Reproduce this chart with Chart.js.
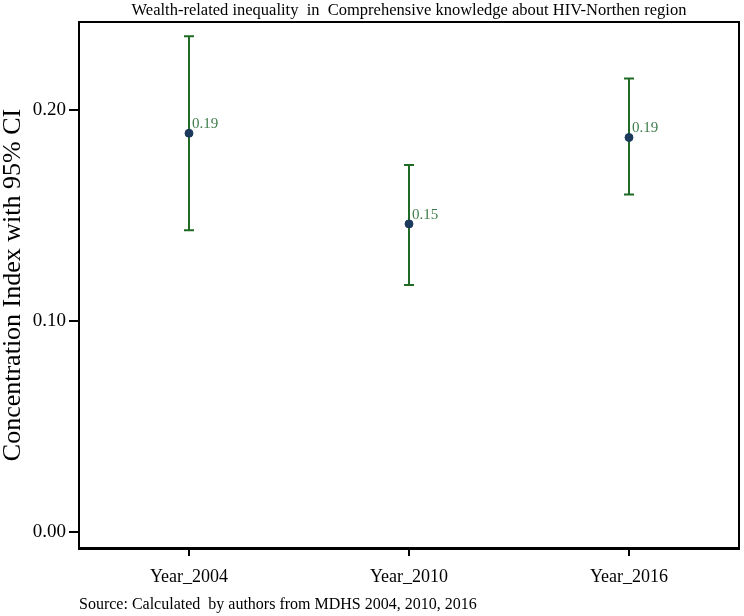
<!DOCTYPE html>
<html>
<head>
<meta charset="utf-8">
<script src="https://cdn.jsdelivr.net/npm/chart.js@4/dist/chart.umd.min.js"></script>
<style>
  html, body { margin: 0; padding: 0; background: #fff; }
  #wrap { width: 744px; height: 616px; }
</style>
</head>
<body>
<div id="wrap"><canvas id="ciChart"></canvas></div>
<script>
// --- data ---
const categories = ['Year_2004', 'Year_2010', 'Year_2016'];
const ciValues = [0.189, 0.146, 0.187];
const ciLower = [0.143, 0.117, 0.160];
const ciUpper = [0.235, 0.174, 0.215];
const yTicks = [0.0, 0.1, 0.2];

const serif = '"Liberation Serif", "Times New Roman", serif';
const barGreen = '#1f6b25';
const labelGreen = '#3f7d4a';

// error bars + value labels, drawn through the chart's own scales
const errorBars = {
    id: 'errorBars',
    beforeDatasetsDraw(chart) {
        const { ctx, scales: { x, y } } = chart;
        ctx.save();
        ctx.strokeStyle = barGreen;
        ctx.lineWidth = 2;
        categories.forEach((c, i) => {
            const px = x.getPixelForValue(i);
            const top = y.getPixelForValue(ciUpper[i]);
            const bot = y.getPixelForValue(ciLower[i]);
            ctx.beginPath();
            ctx.moveTo(px, top); ctx.lineTo(px, bot);
            ctx.moveTo(px - 5, top); ctx.lineTo(px + 5, top);
            ctx.moveTo(px - 5, bot); ctx.lineTo(px + 5, bot);
            ctx.stroke();
        });
        ctx.restore();
    },
    afterDatasetsDraw(chart) {
        const { ctx, scales: { x, y }, chartArea } = chart;
        ctx.save();
        ctx.fillStyle = labelGreen;
        ctx.font = '15px ' + serif;
        ctx.textBaseline = 'middle';
        ciValues.forEach((v, i) => {
            ctx.fillText(v.toFixed(2), x.getPixelForValue(i) + 3, y.getPixelForValue(v) - 9);
        });
        // right side of the frame
        ctx.strokeStyle = '#000';
        ctx.lineWidth = 2;
        ctx.beginPath();
        ctx.moveTo(chartArea.right, chartArea.top);
        ctx.lineTo(chartArea.right, chartArea.bottom);
        ctx.stroke();
        ctx.restore();
    }
};

new Chart(document.getElementById('ciChart'), {
    type: 'line',
    data: {
        labels: categories,
        datasets: [{
            data: ciValues,
            showLine: false,
            pointStyle: 'circle',
            pointRadius: 4,
            pointBackgroundColor: '#1b3a5c',
            pointBorderColor: '#1b3a5c',
            pointBorderWidth: 1
        }]
    },
    options: {
        responsive: true, maintainAspectRatio: false, animation: false,
        layout: { padding: { left: 0, right: 2, top: 0, bottom: 0 } },
        plugins: {
            legend: { display: false },
            tooltip: { enabled: false }
        },
        scales: {
            x: {
                type: 'category',
                offset: true,
                grid: { display: true, drawOnChartArea: false, tickLength: 8, color: '#000', lineWidth: 2 },
                border: { display: true, color: '#000', width: 3 },
                ticks: { color: '#000', padding: 10, font: { family: serif, size: 18 } },
                title: {
                    display: true,
                    text: 'Source: Calculated  by authors from MDHS 2004, 2010, 2016',
                    align: 'start',
                    color: '#000',
                    font: { family: serif, size: 16 },
                    padding: { top: 0, bottom: 2 }
                },
                afterFit(scale) { scale.height = 68; }
            },
            // top edge of the frame, carrying the chart title centred on the plot
            xTop: {
                type: 'category',
                position: 'top',
                offset: true,
                grid: { display: false },
                border: { display: true, color: '#000', width: 2 },
                ticks: { display: false },
                title: {
                    display: true,
                    text: 'Wealth-related inequality  in  Comprehensive knowledge about HIV-Northen region',
                    color: '#000',
                    font: { family: serif, size: 16.5, lineHeight: 1 },
                    padding: { top: 2, bottom: 3 }
                },
                afterFit(scale) { scale.height = 22; }
            },
            y: {
                min: -0.0078,
                max: 0.2418,
                afterBuildTicks(scale) { scale.ticks = yTicks.map(v => ({ value: v })); },
                grid: { display: true, drawOnChartArea: false, tickLength: 10, color: '#000', lineWidth: 2 },
                border: { display: true, color: '#000', width: 2 },
                ticks: {
                    color: '#000', padding: 3,
                    font: { family: serif, size: 19 },
                    callback: v => v.toFixed(2)
                },
                title: {
                    display: true,
                    text: 'Concentration Index with 95% CI',
                    color: '#000',
                    font: { family: serif, size: 26 },
                    padding: { top: -2, bottom: 0 }
                },
                afterFit(scale) { scale.width = 79; }
            }
        }
    },
    plugins: [errorBars]
});
</script>
</body>
</html>
